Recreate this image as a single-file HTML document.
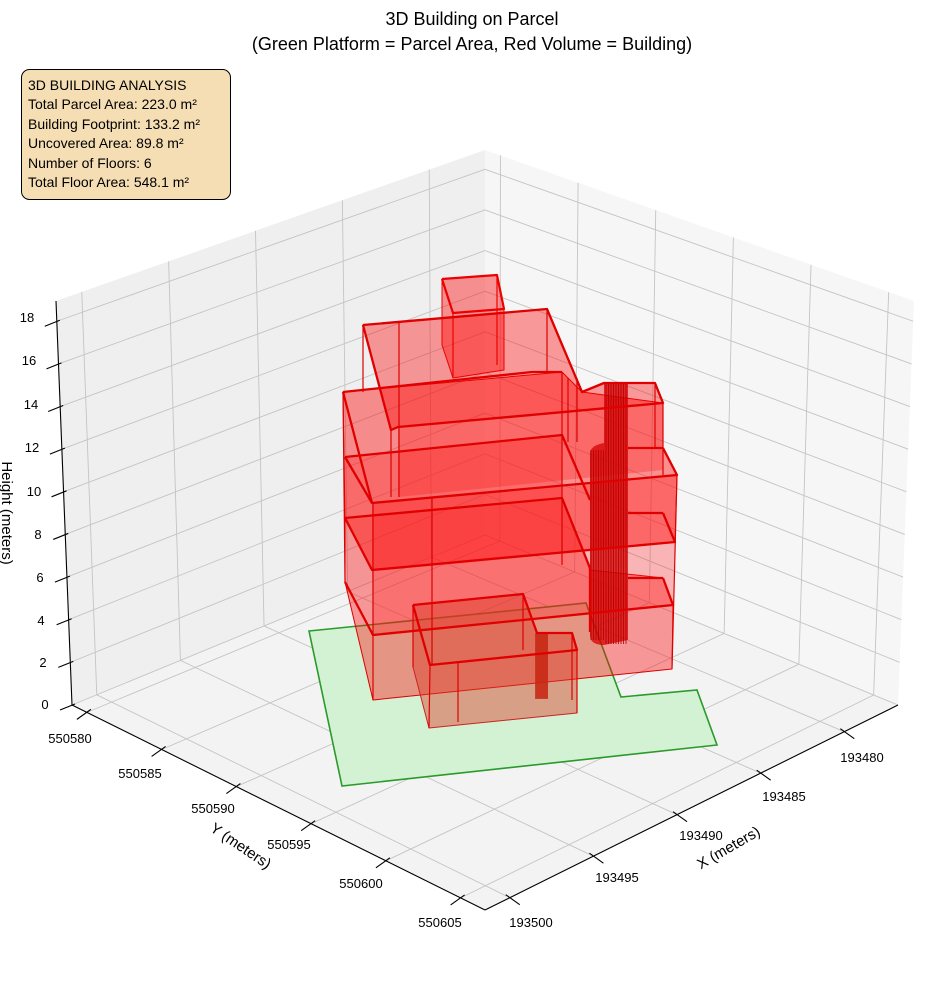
<!DOCTYPE html>
<html><head><meta charset="utf-8"><style>
html,body{margin:0;padding:0;background:#fff;}
svg{display:block;font-family:"Liberation Sans","Noto Sans CJK SC",sans-serif;}
</style></head><body>
<svg id="s" width="944" height="992" viewBox="0 0 944 992" xmlns="http://www.w3.org/2000/svg">
<g id="panes">
<polygon points="72,705 485,535 485,150 56,301" fill="#efefef"/>
<polygon points="485,535 898,705 914,301 485,150" fill="#f6f6f6"/>
<polygon points="72,705 485,535 898,705 485,910" fill="#f3f3f3"/>
</g>
<g id="grid" stroke="#c4c4c4" stroke-width="0.9" fill="none"></g>
<g stroke="#000" stroke-width="1.1" fill="none">
<line x1="72" y1="705" x2="56" y2="301"/>
<line x1="72" y1="705" x2="485" y2="910"/>
<line x1="485" y1="910" x2="898" y2="705"/>
</g>
<g id="ticks" stroke="#000" stroke-width="1.1"></g>
<polygon points="309,631 586,603 621,697 697,690 717,745 342,786" fill="#d3f1d3" stroke="#2a9a2a" stroke-width="1.6"/>
<g stroke-linejoin="round">
<polygon points="345,518 345,582 373,700 672,669 673,605 663,578 590,570 562,498" fill="rgba(255,0,0,0.38)" stroke="#d00" stroke-width="1"/>
<polygon points="343,392 345,518 372,570 675,542 677,475 663,448 663,403 582,392 562,372" fill="rgba(255,0,0,0.42)" stroke="#d00" stroke-width="1"/>
<polygon points="372,503 677,475 675,542 372,570" fill="rgba(255,30,30,0.35)"/>
<polygon points="345,457 562,435 562,498 345,518" fill="rgba(255,30,30,0.3)"/>
<polygon points="372,570 675,542 673,605 373,635" fill="rgba(255,30,30,0.3)"/>
<polygon points="363,325 547,309 582,392 604,383 655,383 663,403 398,427 391,430" fill="rgba(255,0,0,0.38)" stroke="#d00" stroke-width="1"/>
<polygon points="398,427 663,403 663,470 398,497" fill="rgba(255,20,20,0.3)"/>
<polygon points="442,279 497,275 504,309 504,370 453,378 442,345" fill="rgba(255,0,0,0.4)" stroke="#e00" stroke-width="1"/>
<polyline points="442,279 497,275 504,309 453,313 442,279" fill="none" stroke="#e00" stroke-width="2.2"/>
<line x1="453" y1="313" x2="453" y2="378" stroke="#e00" stroke-width="1.2"/>
<line x1="497" y1="275" x2="497" y2="365" stroke="#e00" stroke-width="1.2"/>
<path d="M590,452 Q592,445 604,443 L604,383 L628,383 L628,640 L604,645 Q590,645 590,635 Z" fill="rgba(215,0,0,0.75)"/>
<g id="cyl" stroke="#b00000" stroke-width="0.8"></g>
<polygon points="413,605 523,594 537,633 572,633 577,650 577,713 429,728 413,667" fill="rgba(220,60,40,0.45)" stroke="#c22" stroke-width="1"/>
<rect x="535" y="633" width="13" height="66" fill="rgba(200,40,20,0.8)"/>
<g fill="none" stroke="#e00000" stroke-width="2.3">
<polyline points="343,392 532,372 562,372"/>
<polyline points="343,392 372,503 677,475 663,448"/>
<polyline points="345,457 562,435 590,500"/>
<polyline points="345,518 562,498 590,568"/>
<polyline points="345,457 372,503"/>
<polyline points="345,518 372,570 675,542 663,513"/>
<polyline points="345,582 373,635 673,605 663,578"/>
<polyline points="363,325 547,309 582,392 604,383 655,383 663,403 398,427 391,430 363,325"/>
<polyline points="413,605 523,594 537,633 572,633 577,650 430,665 413,605"/>
<line x1="590" y1="568" x2="590" y2="632"/>
<line x1="628" y1="448" x2="663" y2="448"/>
<line x1="628" y1="513" x2="663" y2="513"/>
<line x1="628" y1="578" x2="663" y2="578"/>
</g>
<g fill="none" stroke="#d00" stroke-width="1.2">
<line x1="343" y1="392" x2="345" y2="582"/>
<line x1="373" y1="503" x2="373" y2="700"/>
<line x1="363" y1="325" x2="363" y2="392"/>
<line x1="399" y1="322" x2="399" y2="497"/>
<line x1="391" y1="430" x2="391" y2="497"/>
<line x1="547" y1="309" x2="547" y2="372"/>
<line x1="562" y1="372" x2="562" y2="565"/>
<line x1="677" y1="475" x2="672" y2="669"/>
<line x1="663" y1="403" x2="663" y2="475"/>
<line x1="655" y1="383" x2="655" y2="448"/>
<line x1="432" y1="497" x2="432" y2="665"/>
<line x1="413" y1="605" x2="413" y2="667"/>
<line x1="430" y1="665" x2="429" y2="728"/>
<line x1="458" y1="662" x2="458" y2="722"/>
<line x1="577" y1="650" x2="577" y2="713"/>
<line x1="572" y1="633" x2="572" y2="700"/>
<line x1="523" y1="594" x2="523" y2="650"/>
<line x1="568" y1="378" x2="568" y2="442"/>
<line x1="577" y1="378" x2="577" y2="442"/>
</g>
</g>
<g font-size="18" text-anchor="middle" fill="#000">
<text x="472" y="25">3D Building on Parcel</text>
<text x="472" y="50">(Green Platform = Parcel Area, Red Volume = Building)</text>
</g>
<rect x="21.5" y="69.5" width="209" height="130" rx="8" fill="#f5deb3" stroke="#000" stroke-width="1"/>
<g font-size="14" fill="#000">
<text x="28" y="90">3D BUILDING ANALYSIS</text>
<text x="28" y="109">Total Parcel Area: 223.0 m²</text>
<text x="28" y="129">Building Footprint: 133.2 m²</text>
<text x="28" y="148">Uncovered Area: 89.8 m²</text>
<text x="28" y="168">Number of Floors: 6</text>
<text x="28" y="187">Total Floor Area: 548.1 m²</text>
</g>
<g font-size="13" fill="#000" text-anchor="middle">
<text x="27" y="322">18</text><text x="29" y="365">16</text><text x="31" y="409">14</text>
<text x="32" y="452">12</text><text x="34" y="496">10</text><text x="38" y="539">8</text>
<text x="40" y="582">6</text><text x="41" y="625">4</text><text x="43" y="667">2</text>
<text x="45" y="709">0</text>
<text x="70" y="743">550580</text><text x="140" y="778">550585</text><text x="213" y="813">550590</text>
<text x="289" y="849">550595</text><text x="361" y="888">550600</text><text x="440" y="927">550605</text>
<text x="862" y="762">193480</text><text x="784" y="801">193485</text><text x="701" y="840">193490</text>
<text x="617" y="882">193495</text><text x="531" y="927">193500</text>
</g>
<g font-size="15" fill="#000" text-anchor="middle">
<text transform="translate(238,850) rotate(34)">Y (meters)</text>
<text transform="translate(731,852) rotate(-30)">X (meters)</text>
<text transform="translate(2,513) rotate(90)">Height (meters)</text>
</g>
</svg>
<script>
(function(){
var NS="http://www.w3.org/2000/svg";
var A=[72,705],B=[485,910],C=[898,705],D=[485,535],Ap=[56,301],Dp=[485,150],Cp=[914,301];
function L(p,q,t){return [p[0]+(q[0]-p[0])*t,p[1]+(q[1]-p[1])*t];}
var g=document.getElementById('grid'),tk=document.getElementById('ticks');
function ln(par,p,q){var e=document.createElementNS(NS,'line');e.setAttribute('x1',p[0]);e.setAttribute('y1',p[1]);e.setAttribute('x2',q[0]);e.setAttribute('y2',q[1]);par.appendChild(e);}
var ys=[],xs=[];
for(var i=0;i<6;i++)ys.push(0.036+0.181*i);
for(var i=0;i<5;i++)xs.push(0.06+0.2025*i);
ys.forEach(function(s){ln(g,L(A,B,s),L(D,C,s));ln(g,L(D,C,s),L(Dp,Cp,s));
 var p=L(A,B,s);ln(tk,[p[0]+4,p[1]-3],[p[0]-10,p[1]+7]);});
xs.forEach(function(t){ln(g,L(B,C,t),L(A,D,t));ln(g,L(A,D,t),L(Ap,Dp,t));
 var p=L(B,C,t);ln(tk,[p[0]-4,p[1]-3],[p[0]+10,p[1]+7]);});
for(var z=0;z<=18;z+=2){
 var a=L(A,Ap,z/18.95),d=L(D,Dp,z/18.95),c=L(C,Cp,z/18.95);
 ln(g,a,d);ln(g,d,c);ln(tk,[a[0]-12,a[1]+5],[a[0]+3,a[1]-1]);}
var cy=document.getElementById('cyl');
for(var x=591;x<628;x+=2.5){var top=x<604?450:383;ln(cy,[x,top],[x,x<604?640:644]);}
for(var x=537;x<548;x+=2){ln(cy,[x,634],[x,698]);}
})();
</script>
</body></html>
